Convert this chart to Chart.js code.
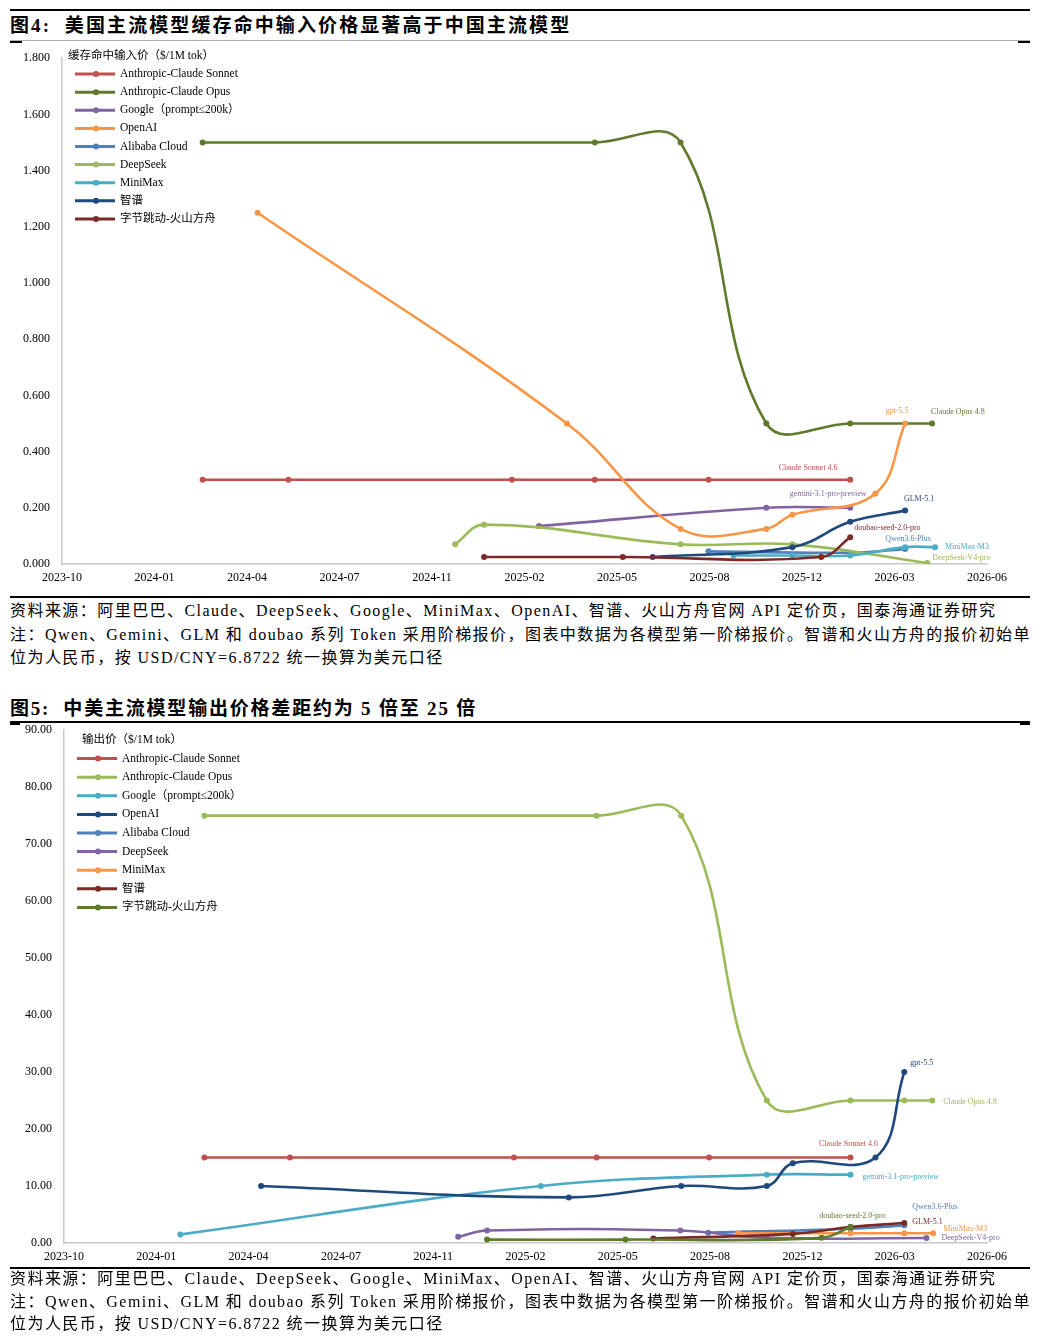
<!DOCTYPE html>
<html>
<head>
<meta charset="utf-8">
<script src="https://cdn.jsdelivr.net/npm/chart.js@4.4.1/dist/chart.umd.min.js"></script>
<style>
  body { margin: 0; background: #fff; width: 1038px; height: 1339px; position: relative; overflow: hidden;
         font-family: "Liberation Serif", "Noto Sans CJK SC", serif; color: #000; }
  .rule { position: absolute; background: #000; }
  .title { position: absolute; left: 10px; font-weight: bold; font-size: 19px; line-height: 22px;
           letter-spacing: 2.1px; white-space: nowrap; }
  .note { position: absolute; left: 10px; font-size: 16px; letter-spacing: 1.45px; white-space: nowrap; }
  canvas { position: absolute; left: 0; }
</style>
</head>
<body>

<div class="rule" style="left:10px;width:1020px;top:9px;height:2px"></div>
<div class="title" style="top:15px">图4:&nbsp; 美国主流模型缓存命中输入价格显著高于中国主流模型</div>
<div class="rule" style="left:10px;width:1020px;top:40px;height:1px;background:#b0b0b0"></div>
<div class="rule" style="left:10px;width:12px;top:41px;height:2px"></div>
<div class="rule" style="left:1018px;width:12px;top:41px;height:2px"></div>
<canvas id="cacheChart" width="1038" height="551" style="top:39px"></canvas>
<div class="rule" style="left:10px;width:1020px;top:596px;height:2px"></div>
<div class="note" style="top:599px;line-height:23.5px">
  资料来源：阿里巴巴、Claude、DeepSeek、Google、MiniMax、OpenAI、智谱、火山方舟官网 API 定价页，国泰海通证券研究<br>
  注：Qwen、Gemini、GLM 和 doubao 系列 Token 采用阶梯报价，图表中数据为各模型第一阶梯报价。智谱和火山方舟的报价初始单<br>
  位为人民币，按 USD/CNY=6.8722 统一换算为美元口径
</div>

<div class="title" style="top:698px;letter-spacing:1.8px">图5:&nbsp; 中美主流模型输出价格差距约为 5 倍至 25 倍</div>
<div class="rule" style="left:10px;width:1020px;top:721px;height:2px"></div>
<div class="rule" style="left:10px;width:10px;top:723px;height:2px"></div>
<div class="rule" style="left:1020px;width:10px;top:723px;height:2px"></div>
<canvas id="outputChart" width="1038" height="558" style="top:711px"></canvas>
<div class="rule" style="left:10px;width:1020px;top:1267px;height:2px"></div>
<div class="note" style="top:1268px;line-height:22.5px">
  资料来源：阿里巴巴、Claude、DeepSeek、Google、MiniMax、OpenAI、智谱、火山方舟官网 API 定价页，国泰海通证券研究<br>
  注：Qwen、Gemini、GLM 和 doubao 系列 Token 采用阶梯报价，图表中数据为各模型第一阶梯报价。智谱和火山方舟的报价初始单<br>
  位为人民币，按 USD/CNY=6.8722 统一换算为美元口径
</div>

<script>
// ---- data ----
var seriesNames = ["Anthropic-Claude Sonnet", "Anthropic-Claude Opus", "Google（prompt≤200k）", "OpenAI",
  "Alibaba Cloud", "DeepSeek", "MiniMax", "智谱", "字节跳动-火山方舟"];
var modelLabels = ["Claude Sonnet 4.6", "Claude Opus 4.8", "gemini-3.1-pro-preview", "gpt-5.5",
  "Qwen3.6-Plus", "DeepSeek-V4-pro", "MiniMax-M3", "GLM-5.1", "doubao-seed-2.0-pro"];
var xTickLabels = ["2023-10", "2024-01", "2024-04", "2024-07", "2024-11", "2025-02",
  "2025-05", "2025-08", "2025-12", "2026-03", "2026-06"];

// 缓存命中输入价 ($/1M tok)
var sonnetCacheDates = ["2024-02-27", "2024-05-26", "2025-01-18", "2025-04-14", "2025-08-12", "2026-01-09"];
var sonnetCache = [0.3, 0.3, 0.3, 0.3, 0.3, 0.3];
var opusCacheDates = ["2024-02-27", "2025-04-14", "2025-07-13", "2025-10-12", "2026-01-09", "2026-04-04"];
var opusCache = [1.5, 1.5, 1.5, 0.5, 0.5, 0.5];
var googleCacheDates = ["2025-02-16", "2025-10-12", "2026-01-09"];
var googleCache = [0.135, 0.2, 0.2];
var openaiCacheDates = ["2024-04-24", "2025-03-15", "2025-07-13", "2025-10-12", "2025-11-09", "2026-02-05", "2026-03-06"];
var openaiCache = [1.25, 0.5, 0.125, 0.125, 0.175, 0.25, 0.5];
var alibabaCacheDates = ["2025-08-12", "2026-01-09", "2026-03-06"];
var alibabaCache = [0.045, 0.04, 0.053];
var deepseekCacheDates = ["2024-11-19", "2024-12-19", "2025-07-13", "2025-11-09", "2026-03-29"];
var deepseekCache = [0.07, 0.14, 0.07, 0.07, 0.0036];
var minimaxCacheDates = ["2025-09-08", "2025-11-09", "2026-01-09", "2026-03-06", "2026-04-07"];
var minimaxCache = [0.03, 0.03, 0.03, 0.06, 0.06];
var zhipuCacheDates = ["2025-06-14", "2025-11-09", "2026-01-09", "2026-03-06"];
var zhipuCache = [0.025, 0.06, 0.15, 0.19];
var bytedanceCacheDates = ["2024-12-19", "2025-05-13", "2025-12-09", "2026-01-09"];
var bytedanceCache = [0.025, 0.025, 0.025, 0.095];

// 输出价 ($/1M tok)
var sonnetOutDates = ["2024-02-27", "2024-05-26", "2025-01-19", "2025-04-15", "2025-08-12", "2026-01-09"];
var sonnetOut = [15, 15, 15, 15, 15, 15];
var opusOutDates = ["2024-02-27", "2025-04-15", "2025-07-13", "2025-10-12", "2026-01-09", "2026-03-05", "2026-04-04"];
var opusOut = [75, 75, 75, 25, 25, 25, 25];
var googleOutDates = ["2024-02-02", "2025-02-17", "2025-10-12", "2026-01-09"];
var googleOut = [1.5, 10, 12, 12];
var openaiOutDates = ["2024-04-26", "2025-03-16", "2025-07-13", "2025-10-12", "2025-11-09", "2026-02-05", "2026-03-05"];
var openaiOut = [10, 8, 10, 10, 14, 15, 30];
var alibabaOutDates = ["2025-08-11", "2026-01-09", "2026-03-05"];
var alibabaOut = [1.8, 2.5, 3.1];
var deepseekOutDates = ["2024-11-21", "2024-12-21", "2025-07-12", "2025-10-12", "2026-03-28"];
var deepseekOut = [1.1, 2.19, 2.19, 0.9, 0.87];
var minimaxOutDates = ["2025-09-12", "2026-01-09", "2026-03-05", "2026-04-05"];
var minimaxOut = [1.7, 1.7, 1.7, 1.7];
var zhipuOutDates = ["2025-06-14", "2025-11-09", "2026-01-09", "2026-03-05"];
var zhipuOut = [0.8, 1.6, 2.8, 3.5];
var bytedanceOutDates = ["2024-12-21", "2025-05-15", "2025-12-09", "2026-01-09"];
var bytedanceOut = [0.6, 0.6, 0.9, 2.8];

// ---- styles ----
var cacheColors = ["#c0504d", "#5f7a2c", "#8064a2", "#f79646", "#4f81bd", "#9bbb59", "#4bacc6", "#1f497d", "#7b2a28"];
var outColors = ["#c0504d", "#9bbb59", "#4bacc6", "#1f497d", "#4f81bd", "#8064a2", "#f79646", "#7b2a28", "#5f7a2c"];
// [dx, dy, align] of each end label relative to the series' last point
var cacheLabelPos = [[-42, -12, "center"], [-1, -12, "left"], [-22, -14, "center"], [-8, -13, "center"],
  [3, -10, "center"], [5, -5, "left"], [10, 0, "left"], [14, -12, "center"], [4, -9, "left"]];
var outLabelPos = [[-2, -14, "center"], [11, 1, "left"], [12, 2, "left"], [6, -9, "left"],
  [8, -18, "left"], [15, 0, "left"], [10, -4, "left"], [8, -1, "left"], [2, -11, "center"]];

var FONT = '"Liberation Serif", "Noto Sans CJK SC", serif';

// months since 2023-10-01
function toM(d) {
  var p = d.split("-").map(Number);
  return (p[0] - 2023) * 12 + (p[1] - 10) + (p[2] - 1) / 30;
}
function pts(dates, vals) {
  return dates.map(function (d, i) { return { x: toM(d), y: vals[i] }; });
}

var legendPlugin = {
  id: "sideLegend",
  afterDraw: function (chart, args, o) {
    var ctx = chart.ctx;
    ctx.save();
    ctx.textBaseline = "middle";
    ctx.textAlign = "left";
    ctx.font = "11.5px " + FONT;
    ctx.fillStyle = "#000";
    ctx.fillText(o.title, o.titleX, o.y);
    chart.data.datasets.forEach(function (ds, i) {
      var y = o.y + o.gap * (i + 1);
      ctx.strokeStyle = ds.borderColor;
      ctx.lineWidth = 3;
      ctx.beginPath();
      ctx.moveTo(o.x, y);
      ctx.lineTo(o.x + 40, y);
      ctx.stroke();
      ctx.fillStyle = ds.borderColor;
      ctx.beginPath();
      ctx.arc(o.x + 21, y, 3, 0, Math.PI * 2);
      ctx.fill();
      ctx.fillStyle = "#000";
      ctx.fillText(ds.label, o.x + 45, y);
    });
    ctx.restore();
  }
};

var endLabelPlugin = {
  id: "endLabels",
  afterDatasetsDraw: function (chart, args, o) {
    var ctx = chart.ctx;
    ctx.save();
    ctx.font = "8px " + FONT;
    ctx.textBaseline = "middle";
    chart.data.datasets.forEach(function (ds, i) {
      var meta = chart.getDatasetMeta(i);
      var last = meta.data[meta.data.length - 1];
      var p = o.pos[i];
      ctx.fillStyle = ds.borderColor;
      ctx.textAlign = p[2];
      ctx.fillText(o.labels[i], last.x + p[0], last.y + p[1]);
    });
    ctx.restore();
  }
};

function buildChart(id, seriesPts, colors, yMax, yStep, decimals, yAxisWidth, legendOpts, labelPos) {
  var datasets = seriesPts.map(function (d, i) {
    return {
      label: seriesNames[i],
      data: d,
      borderColor: colors[i],
      backgroundColor: colors[i],
      borderWidth: 2.6,
      pointRadius: 3,
      pointBorderWidth: 0,
      tension: 0.4,
      order: -i
    };
  });
  return new Chart(document.getElementById(id), {
    type: "line",
    data: { datasets: datasets },
    options: {
      responsive: false,
      animation: false,
      devicePixelRatio: 1,
      layout: { padding: { top: 0, right: 51, left: 0, bottom: 0 } },
      scales: {
        x: {
          type: "linear",
          min: 0,
          max: 32,
          afterBuildTicks: function (s) {
            s.ticks = xTickLabels.map(function (_, i) { return { value: i * 3.2 }; });
          },
          afterFit: function (s) { s.height = 26; },
          grid: { display: false, drawTicks: false },
          border: { display: true, color: "#c8c8c8", width: 1.5 },
          ticks: {
            autoSkip: false, maxRotation: 0, padding: 7, color: "#000",
            font: { family: FONT, size: 12 },
            callback: function (v, i) { return xTickLabels[i]; }
          }
        },
        y: {
          min: 0,
          max: yMax,
          afterFit: function (s) { s.width = yAxisWidth; },
          grid: { display: false, drawTicks: false },
          border: { display: true, color: "#c8c8c8", width: 1.5 },
          ticks: {
            stepSize: yStep, padding: 12, color: "#000",
            font: { family: FONT, size: 12 },
            callback: function (v) { return v.toFixed(decimals); }
          }
        }
      },
      plugins: {
        legend: { display: false },
        tooltip: { enabled: false },
        sideLegend: legendOpts,
        endLabels: { labels: modelLabels, pos: labelPos }
      }
    },
    plugins: [legendPlugin, endLabelPlugin]
  });
}

buildChart("cacheChart", [
  pts(sonnetCacheDates, sonnetCache), pts(opusCacheDates, opusCache), pts(googleCacheDates, googleCache),
  pts(openaiCacheDates, openaiCache), pts(alibabaCacheDates, alibabaCache), pts(deepseekCacheDates, deepseekCache),
  pts(minimaxCacheDates, minimaxCache), pts(zhipuCacheDates, zhipuCache), pts(bytedanceCacheDates, bytedanceCache)
], cacheColors, 1.8, 0.2, 3, 62,
  { title: "缓存命中输入价（$/1M tok）", titleX: 68, x: 75, y: 17, gap: 18.1 }, cacheLabelPos);

buildChart("outputChart", [
  pts(sonnetOutDates, sonnetOut), pts(opusOutDates, opusOut), pts(googleOutDates, googleOut),
  pts(openaiOutDates, openaiOut), pts(alibabaOutDates, alibabaOut), pts(deepseekOutDates, deepseekOut),
  pts(minimaxOutDates, minimaxOut), pts(zhipuOutDates, zhipuOut), pts(bytedanceOutDates, bytedanceOut)
], outColors, 90, 10, 2, 64,
  { title: "输出价（$/1M tok）", titleX: 82, x: 77, y: 29, gap: 18.6 }, outLabelPos);
</script>
</body>
</html>
